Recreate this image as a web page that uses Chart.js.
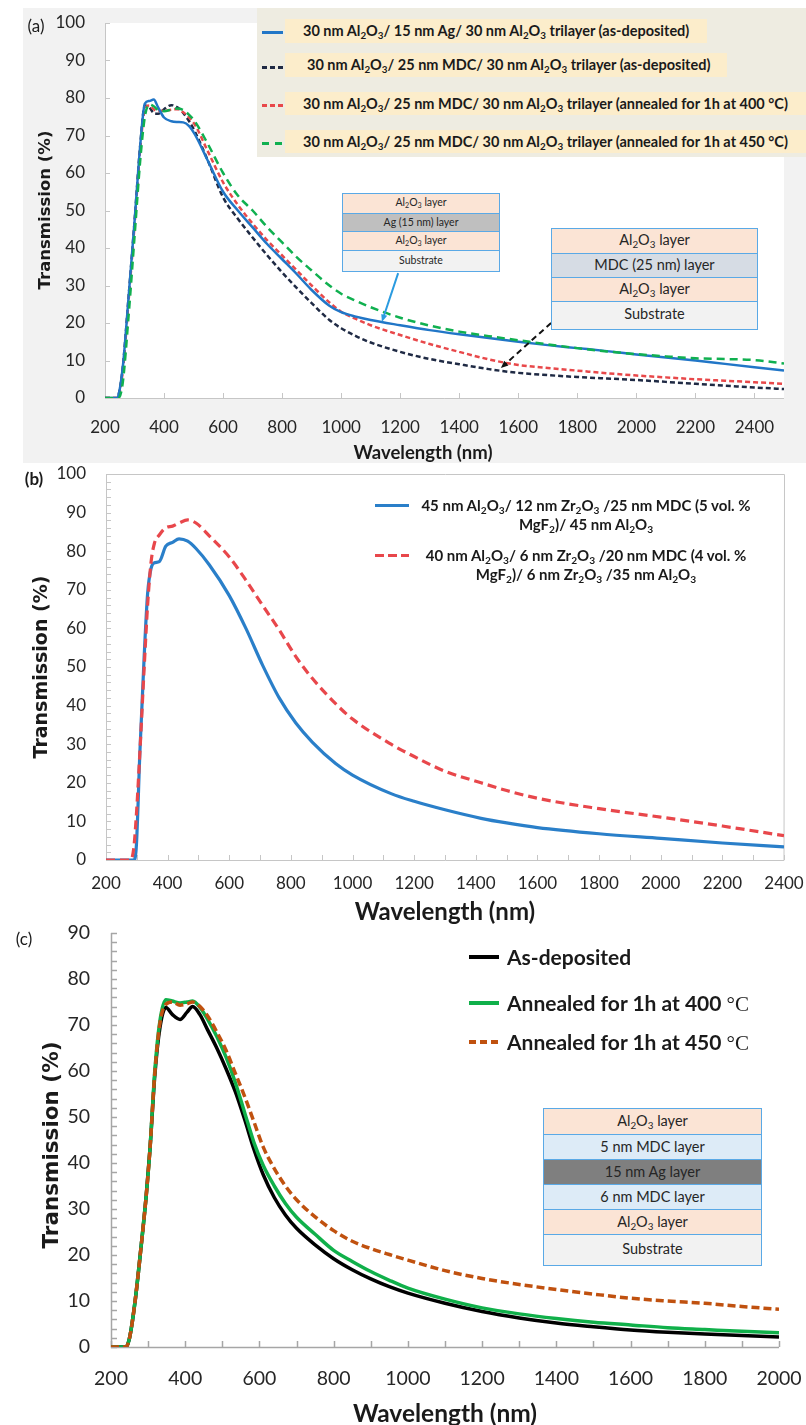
<!DOCTYPE html>
<html>
<head>
<meta charset="utf-8">
<script src="https://cdn.jsdelivr.net/npm/chart.js@4.4.1/dist/chart.umd.min.js"></script>
<style>
  body { margin: 0; background: #fff; }
  #page { position: relative; width: 806px; height: 1425px; overflow: hidden; font-family: Lato, "Noto Sans", sans-serif; color: #1a1a1a; }
  canvas { position: absolute; left: 0; z-index: 1; }
  .ov { position: absolute; z-index: 2; white-space: nowrap; }
  sub { font-size: 0.68em; vertical-align: -0.3em; line-height: 0; }
  .ytitle { position: absolute; z-index: 2; white-space: nowrap; font-family: "DejaVu Sans", sans-serif; font-weight: bold; transform: translate(-50%, -50%) rotate(-90deg); }
  .xtitle { position: absolute; z-index: 2; white-space: nowrap; font-weight: bold; transform: translate(-50%, -50%); }
  .plabel { position: absolute; z-index: 2; font-size: 17px; transform: translate(-50%, -50%); }
  .samp { position: absolute; z-index: 3; }
  .hl { position: absolute; background: #fcedcb; }
  .legtxt { position: absolute; font-weight: bold; font-size: 14.5px; line-height: 24px; }
  .stack { position: absolute; z-index: 3; border: 1.5px solid #5aa9e6; box-sizing: border-box; }
  .stack div { box-sizing: border-box; border-top: 1.5px solid #5aa9e6; text-align: center; color: #262626; }
  .stack div:first-child { border-top: none; }
</style>
</head>
<body>
<div id="page">
  <canvas id="chartA" width="806" height="470" style="top:0px"></canvas>
  <canvas id="chartB" width="806" height="470" style="top:440px"></canvas>
  <canvas id="chartC" width="806" height="535" style="top:890px"></canvas>

  <!-- panel (a) -->
  <div class="plabel" style="left:36px;top:25px">(a)</div>
  <div class="ytitle" style="left:44px;top:210px;font-size:16.5px">Transmission (%)</div>
  <div class="xtitle" style="left:423px;top:452px;font-size:18.5px">Wavelength (nm)</div>

  <div class="ov" style="left:257px;top:8px;width:549px;height:149px;background:#eeece1">
    <div class="samp" style="left:5px;top:23px;width:21px;height:2.5px;background:#2176c7"></div>
    <div class="hl" style="left:28px;top:11px;width:422px;height:24px"></div>
    <div class="legtxt" style="left:46px;top:11px">30 nm Al<sub>2</sub>O<sub>3</sub>/ 15 nm Ag/ 30 nm Al<sub>2</sub>O<sub>3</sub> trilayer (as-deposited)</div>

    <div class="samp" style="left:5px;top:58px;width:21px;height:2.5px;background:repeating-linear-gradient(90deg,#1f2a44 0 5px,transparent 5px 8px)"></div>
    <div class="hl" style="left:28px;top:45px;width:442px;height:24px"></div>
    <div class="legtxt" style="left:50px;top:45px">30 nm Al<sub>2</sub>O<sub>3</sub>/ 25 nm MDC/ 30 nm Al<sub>2</sub>O<sub>3</sub> trilayer (as-deposited)</div>

    <div class="samp" style="left:5px;top:96px;width:21px;height:2.5px;background:repeating-linear-gradient(90deg,#e8484a 0 5px,transparent 5px 8px)"></div>
    <div class="hl" style="left:28px;top:84px;width:521px;height:23px"></div>
    <div class="legtxt" style="left:46px;top:83.5px">30 nm Al<sub>2</sub>O<sub>3</sub>/ 25 nm MDC/ 30 nm Al<sub>2</sub>O<sub>3</sub> trilayer (annealed for 1h at 400 °C)</div>

    <div class="samp" style="left:5px;top:134px;width:21px;height:2.5px;background:repeating-linear-gradient(90deg,#10b050 0 7px,transparent 7px 13px)"></div>
    <div class="hl" style="left:28px;top:122px;width:521px;height:23px"></div>
    <div class="legtxt" style="left:46px;top:121.5px">30 nm Al<sub>2</sub>O<sub>3</sub>/ 25 nm MDC/ 30 nm Al<sub>2</sub>O<sub>3</sub> trilayer (annealed for 1h at 450 °C)</div>
  </div>

  <div class="stack" style="left:342px;top:193px;width:158px;font-size:10.5px">
    <div style="height:18.5px;line-height:17px;background:#fbe4d5">Al<sub>2</sub>O<sub>3</sub> layer</div>
    <div style="height:18.5px;line-height:17px;background:#bfbfbf">Ag (15 nm) layer</div>
    <div style="height:18.5px;line-height:17px;background:#fbe4d5">Al<sub>2</sub>O<sub>3</sub> layer</div>
    <div style="height:21px;line-height:18px;background:#f2f2f2">Substrate</div>
  </div>

  <div class="stack" style="left:551px;top:228px;width:207px;font-size:14.5px">
    <div style="height:24px;line-height:22px;background:#fbe4d5">Al<sub>2</sub>O<sub>3</sub> layer</div>
    <div style="height:24px;line-height:22px;background:#d6dce4">MDC (25 nm) layer</div>
    <div style="height:24px;line-height:22px;background:#fbe4d5">Al<sub>2</sub>O<sub>3</sub> layer</div>
    <div style="height:28px;line-height:24px;background:#f2f2f2">Substrate</div>
  </div>

  <!-- panel (b) -->
  <div class="plabel" style="left:34px;top:478px;font-weight:bold">(b)</div>
  <div class="ytitle" style="left:40px;top:667px;font-size:19px">Transmission (%)</div>
  <div class="xtitle" style="left:445px;top:910px;font-size:24px">Wavelength (nm)</div>

  <div class="samp" style="left:375px;top:503.5px;width:34px;height:3px;background:#2a7fc9"></div>
  <div class="ov" style="left:414px;top:495.5px;width:344px;text-align:center;font-weight:bold;font-size:15px;line-height:19px">45 nm Al<sub>2</sub>O<sub>3</sub>/ 12 nm Zr<sub>2</sub>O<sub>3</sub> /25 nm MDC (5 vol. %<br>MgF<sub>2</sub>)/ 45 nm Al<sub>2</sub>O<sub>3</sub></div>
  <div class="samp" style="left:375px;top:553.5px;width:34px;height:3px;background:repeating-linear-gradient(90deg,#e8474b 0 9px,transparent 9px 13px)"></div>
  <div class="ov" style="left:414px;top:545.5px;width:344px;text-align:center;font-weight:bold;font-size:15px;line-height:19px">40 nm Al<sub>2</sub>O<sub>3</sub>/ 6 nm Zr<sub>2</sub>O<sub>3</sub> /20 nm MDC (4 vol. %<br>MgF<sub>2</sub>)/ 6 nm Zr<sub>2</sub>O<sub>3</sub> /35 nm Al<sub>2</sub>O<sub>3</sub></div>

  <!-- panel (c) -->
  <div class="plabel" style="left:24px;top:938px">(c)</div>
  <div class="ytitle" style="left:50px;top:1145px;font-size:21.5px">Transmission (%)</div>
  <div class="xtitle" style="left:445px;top:1412px;font-size:24.5px">Wavelength (nm)</div>

  <div class="samp" style="left:469px;top:955px;width:30px;height:3.5px;background:#000"></div>
  <div class="ov" style="left:507px;top:944px;font-weight:bold;font-size:21px;line-height:26px">As-deposited</div>
  <div class="samp" style="left:469px;top:1001px;width:30px;height:3.5px;background:#10b04a"></div>
  <div class="ov" style="left:507px;top:990px;font-weight:bold;font-size:21px;line-height:26px">Annealed for 1h at 400 <span style="font-family:'Liberation Serif',serif;font-weight:normal">°C</span></div>
  <div class="samp" style="left:469px;top:1040px;width:30px;height:3.5px;background:repeating-linear-gradient(90deg,#c0510f 0 7px,transparent 7px 11px)"></div>
  <div class="ov" style="left:507px;top:1029px;font-weight:bold;font-size:21px;line-height:26px">Annealed for 1h at 450 <span style="font-family:'Liberation Serif',serif;font-weight:normal">°C</span></div>

  <div class="stack" style="left:543px;top:1108px;width:219px;font-size:14.5px">
    <div style="height:25px;line-height:23px;background:#fbe4d5">Al<sub>2</sub>O<sub>3</sub> layer</div>
    <div style="height:25px;line-height:23px;background:#ddebf7">5 nm MDC layer</div>
    <div style="height:25px;line-height:23px;background:#7f7f7f">15 nm Ag layer</div>
    <div style="height:25px;line-height:23px;background:#ddebf7">6 nm MDC layer</div>
    <div style="height:25px;line-height:23px;background:#fbe4d5">Al<sub>2</sub>O<sub>3</sub> layer</div>
    <div style="height:31px;line-height:28px;background:#f2f2f2">Substrate</div>
  </div>
</div>

<script>
// ---- panel (a): trilayers, wavelength (nm) vs transmission (%)
const wlA = [200, 240, 245, 260, 280, 300, 320, 335, 350, 365, 380, 400, 425, 445, 465, 485, 505, 550, 600, 650,
  700, 750, 800, 850, 900, 960, 1000, 1050, 1100, 1200, 1300, 1400, 1500, 1600, 1700, 1800, 1900, 2000, 2100, 2200, 2300, 2400, 2500];
const agTrilayer = [0, 0, 0.5, 8, 27, 47, 68, 78.5, 79.2, 79.6, 77.5, 74.8, 73.8, 73.6, 73.5, 72.5, 70.2, 63, 55, 50,
  45.5, 41, 37, 33, 28.8, 24.6, 22.9, 21.7, 20.8, 19.4, 18.1, 17, 16, 15, 14.1, 13.3, 12.5, 11.6, 10.8, 10, 9.1, 8.2, 7.3];
const mdcAsDep = [0, 0, 0.5, 8, 27, 47, 68, 78, 77.5, 76, 75.8, 77, 78.1, 77.5, 76, 73.8, 71, 63, 53.5, 47.8,
  42.8, 38, 33.5, 29.3, 25.3, 20.8, 18.6, 16.5, 14.8, 12.3, 10.4, 9, 7.7, 6.7, 6.1, 5.6, 5.2, 4.8, 4.3, 3.8, 3.3, 2.8, 2.4];
const mdc400 = [0, 0, 0.3, 7, 26, 46, 67, 77, 78, 77, 76.5, 76.6, 76.9, 77, 76.2, 74.8, 72.8, 65.5, 57.5, 51.5,
  46.5, 42, 38, 34, 30, 25.5, 23, 21.1, 19.4, 16.8, 14.4, 12.3, 10.3, 8.8, 8, 7.3, 6.6, 6, 5.5, 5, 4.6, 4.2, 3.8];
const mdc450 = [0, 0, 0, 4, 22, 43, 64, 75, 78.3, 77.8, 76.8, 76.5, 76.9, 77.2, 76.8, 75.5, 73.7, 67.5, 60, 54,
  50, 45.5, 41.5, 37.5, 34, 30, 27.8, 25.9, 24.2, 21.4, 19.3, 17.7, 16.5, 15.4, 14.3, 13.3, 12.4, 11.7, 11.1, 10.6, 10.4, 10.1, 9.2];
const xTicksA = [200, 400, 600, 800, 1000, 1200, 1400, 1600, 1800, 2000, 2200, 2400];
const yTicksA = [0, 10, 20, 30, 40, 50, 60, 70, 80, 90, 100];
// callout arrows, in data units [wavelength, transmission]
const arrowAg = [[1193, 33.3], [1138, 20.3]];
const arrowMdc = [[1711, 20], [1541, 8]];

// ---- panel (b): Zr2O3 stacks
const wlB = [200, 280, 290, 298, 310, 324, 335, 346, 357, 373, 394, 416, 437, 465, 492, 535, 600, 654, 708, 762,
  816, 870, 945, 1000, 1125, 1200, 1300, 1417, 1500, 1600, 1800, 2000, 2200, 2400];
const zrStack45 = [0, 0, 0, 3, 28, 53, 69, 75.5, 77, 77.3, 81.3, 82.3, 83.2, 82.6, 80.7, 76.5, 68.5, 60, 50.5, 42,
  35.5, 30.5, 25, 22, 17.2, 15.2, 13, 10.8, 9.6, 8.4, 6.8, 5.6, 4.4, 3.4];
const zrStack40 = [0, 0, 3, 11, 28, 50, 66, 77, 82, 84.2, 86.1, 86.5, 87.3, 88.1, 87.3, 84, 78.5, 72.5, 66, 59.6,
  52.7, 47, 40.5, 36.5, 30, 26.8, 23, 20, 18, 16, 13.3, 11.1, 8.8, 6.3];
const xTicksB = [200, 400, 600, 800, 1000, 1200, 1400, 1600, 1800, 2000, 2200, 2400];
const yTicksB = [0, 10, 20, 30, 40, 50, 60, 70, 80, 90, 100];

// ---- panel (c): MDC/Ag/MDC stack
const wlC = [200, 240, 250, 265, 280, 295, 305, 318, 332, 348, 365, 386, 405, 420, 440, 460, 485, 510, 535, 560,
  585, 610, 640, 670, 700, 750, 800, 850, 900, 950, 1000, 1100, 1200, 1300, 1400, 1500, 1600, 1700, 1800, 1900, 2000];
const asDeposited = [0, 0, 2, 10, 21, 33, 43, 59, 69.5, 73.8, 72.3, 71.2, 72.8, 74, 72.2, 69, 65, 60.5, 55.5, 49.5,
  43, 37.5, 32.5, 28.7, 25.8, 22.2, 19.2, 16.8, 14.8, 13.1, 11.7, 9.5, 7.7, 6.3, 5.2, 4.4, 3.7, 3.2, 2.8, 2.5, 2.2];
const annealed400 = [0, 0, 2, 10, 21, 33, 43, 60, 71, 75.5, 75.2, 74.8, 75, 75.2, 73.8, 71.3, 67.5, 63, 57.5, 51,
  44.5, 39.5, 35, 31.2, 28.2, 24.5, 21, 18.6, 16.4, 14.5, 12.8, 10.4, 8.5, 7.2, 6.2, 5.4, 4.8, 4.2, 3.8, 3.4, 3.1];
const annealed450 = [0, 0, 2, 10, 21, 33, 43, 59.5, 70.5, 74.5, 75, 74.3, 74.6, 75, 74, 72, 68.5, 64.5, 59.5, 54.5,
  49, 43.5, 38.8, 35, 32, 28.3, 25.3, 23, 21.4, 20.1, 18.9, 16.6, 14.9, 13.6, 12.5, 11.5, 10.6, 10, 9.5, 8.8, 8.2];
const xTicksC = [200, 400, 600, 800, 1000, 1200, 1400, 1600, 1800, 2000];
const yTicksC = [0, 10, 20, 30, 40, 50, 60, 70, 80, 90];

function range(a, b, step) {
  const out = [];
  for (let v = a; v <= b + 1e-9; v += step) out.push(v);
  return out;
}

// axes, inward tick marks and the grey panel background
const framePlugin = {
  id: 'frame',
  beforeDraw(chart, args, o) {
    if (!o.bg) return;
    const ctx = chart.ctx, a = chart.chartArea, r = o.bg.rect;
    ctx.save();
    ctx.fillStyle = o.bg.color;
    ctx.fillRect(r[0], r[1], r[2], r[3]);
    ctx.fillStyle = '#fff';
    ctx.fillRect(a.left, a.top, a.width, a.height);
    ctx.restore();
  },
  beforeDatasetsDraw(chart, args, o) {
    const ctx = chart.ctx, a = chart.chartArea, x = chart.scales.x, y = chart.scales.y;
    ctx.save();
    ctx.strokeStyle = o.color;
    ctx.lineWidth = o.width;
    ctx.beginPath();
    o.xTicks.forEach(v => {
      const px = Math.round(x.getPixelForValue(v)) + 0.5;
      ctx.moveTo(px, a.bottom);
      ctx.lineTo(px, a.bottom - o.len);
    });
    o.yTicks.forEach(v => {
      const py = Math.round(y.getPixelForValue(v)) + 0.5;
      ctx.moveTo(a.left, py);
      ctx.lineTo(a.left + o.len, py);
    });
    ctx.stroke();
    ctx.beginPath();
    ctx.moveTo(a.left + 0.5, a.top);
    ctx.lineTo(a.left + 0.5, a.bottom + 0.5);
    ctx.lineTo(a.right, a.bottom + 0.5);
    if (o.box) {
      ctx.lineTo(a.right + 0.5, a.top + 0.5);
      ctx.lineTo(a.left + 0.5, a.top + 0.5);
    }
    ctx.stroke();
    ctx.restore();
  }
};

const arrowPlugin = {
  id: 'arrows',
  afterDatasetsDraw(chart, args, o) {
    const ctx = chart.ctx, x = chart.scales.x, y = chart.scales.y;
    (o.list || []).forEach(ar => {
      const x0 = x.getPixelForValue(ar.pts[0][0]), y0 = y.getPixelForValue(ar.pts[0][1]);
      const x1 = x.getPixelForValue(ar.pts[1][0]), y1 = y.getPixelForValue(ar.pts[1][1]);
      const ang = Math.atan2(y1 - y0, x1 - x0), head = 8;
      ctx.save();
      ctx.strokeStyle = ar.color;
      ctx.fillStyle = ar.color;
      ctx.lineWidth = 2;
      ctx.setLineDash(ar.dash || []);
      ctx.beginPath();
      ctx.moveTo(x0, y0);
      ctx.lineTo(x1 - Math.cos(ang) * head * 0.8, y1 - Math.sin(ang) * head * 0.8);
      ctx.stroke();
      ctx.setLineDash([]);
      ctx.beginPath();
      ctx.moveTo(x1, y1);
      ctx.lineTo(x1 - head * Math.cos(ang - 0.4), y1 - head * Math.sin(ang - 0.4));
      ctx.lineTo(x1 - head * Math.cos(ang + 0.4), y1 - head * Math.sin(ang + 0.4));
      ctx.closePath();
      ctx.fill();
      ctx.restore();
    });
  }
};

Chart.register(framePlugin, arrowPlugin);

function series(xs, ys, color, width, dash, order) {
  return {
    data: xs.map((v, i) => ({ x: v, y: ys[i] })),
    borderColor: color,
    borderWidth: width,
    borderDash: dash,
    order: order,
    fill: false,
    pointRadius: 0,
    cubicInterpolationMode: 'monotone'
  };
}

// label offsets come from an invisible tick length, so ticks.padding stays 0
// (ticks.padding would otherwise push the chart area in)
function options(p) {
  const tickFont = { family: 'Lato, "Noto Sans", sans-serif', size: p.fs };
  return {
    responsive: false,
    animation: false,
    events: [],
    layout: { padding: { left: 0, top: p.top, right: p.W - p.right, bottom: 0 } },
    plugins: {
      legend: { display: false },
      tooltip: { enabled: false },
      frame: p.frame,
      arrows: { list: p.arrows || [] }
    },
    scales: {
      x: {
        type: 'linear', min: p.xMin, max: p.xMax,
        grid: { display: true, drawOnChartArea: false, drawTicks: true, tickLength: p.xPad, color: 'rgba(0,0,0,0)' },
        border: { display: false },
        afterBuildTicks: s => { s.ticks = p.xTicks.map(v => ({ value: v })); },
        afterFit: s => { s.height = p.H - p.bottom; },
        ticks: { autoSkip: false, maxRotation: 0, padding: 0, color: '#262626', font: tickFont, callback: v => String(v) }
      },
      y: {
        type: 'linear', min: p.yMin, max: p.yMax,
        grid: { display: true, drawOnChartArea: false, drawTicks: true, tickLength: p.yPad, color: 'rgba(0,0,0,0)' },
        border: { display: false },
        afterBuildTicks: s => { s.ticks = p.yTicks.map(v => ({ value: v })); },
        afterFit: s => { s.width = p.left; },
        ticks: { padding: 0, color: '#262626', font: tickFont, callback: v => String(v) }
      }
    }
  };
}

new Chart(document.getElementById('chartA'), {
  type: 'line',
  data: {
    datasets: [
      series(wlA, mdc450, '#10b050', 2.5, [8, 5], 0),
      series(wlA, agTrilayer, '#2176c7', 2.5, [], 1),
      series(wlA, mdc400, '#e8484a', 2.5, [5, 3], 2),
      series(wlA, mdcAsDep, '#1f2a44', 2.5, [5, 3], 3)
    ]
  },
  options: options({
    W: 806, H: 470, left: 105, right: 784, top: 23, bottom: 398,
    xMin: 200, xMax: 2500, yMin: 0, yMax: 100, xTicks: xTicksA, yTicks: yTicksA,
    fs: 17, xPad: 19, yPad: 20,
    frame: { xTicks: xTicksA, yTicks: yTicksA, len: 5, color: '#c6c6c6', width: 1, box: false,
             bg: { color: '#f2f2f2', rect: [23, 8, 783, 455] } },
    arrows: [
      { pts: arrowAg, color: '#2a9be0', dash: [] },
      { pts: arrowMdc, color: '#111', dash: [6, 4] }
    ]
  })
});

new Chart(document.getElementById('chartB'), {
  type: 'line',
  data: {
    datasets: [
      series(wlB, zrStack40, '#e8474b', 3.2, [9, 5], 0),
      series(wlB, zrStack45, '#2a7fc9', 3.2, [], 1)
    ]
  },
  options: options({
    W: 806, H: 470, left: 106, right: 784, top: 34, bottom: 420,
    xMin: 200, xMax: 2400, yMin: 0, yMax: 100, xTicks: xTicksB, yTicks: yTicksB,
    fs: 17, xPad: 13, yPad: 20,
    frame: { xTicks: range(200, 2400, 100), yTicks: range(0, 100, 2), len: 5, color: '#c6c6c6', width: 1, box: true }
  })
});

new Chart(document.getElementById('chartC'), {
  type: 'line',
  data: {
    datasets: [
      series(wlC, annealed450, '#c0510f', 3.5, [8, 4], 0),
      series(wlC, annealed400, '#10b04a', 3.5, [], 1),
      series(wlC, asDeposited, '#000000', 3.5, [], 2)
    ]
  },
  options: options({
    W: 806, H: 535, left: 111, right: 779, top: 43, bottom: 457,
    xMin: 200, xMax: 2000, yMin: 0, yMax: 90, xTicks: xTicksC, yTicks: yTicksC,
    fs: 19.5, xPad: 20, yPad: 21,
    frame: { xTicks: range(200, 2000, 100), yTicks: range(0, 90, 2), len: 6, color: '#a6a6a6', width: 1.5, box: false }
  })
});
</script>
</body>
</html>
